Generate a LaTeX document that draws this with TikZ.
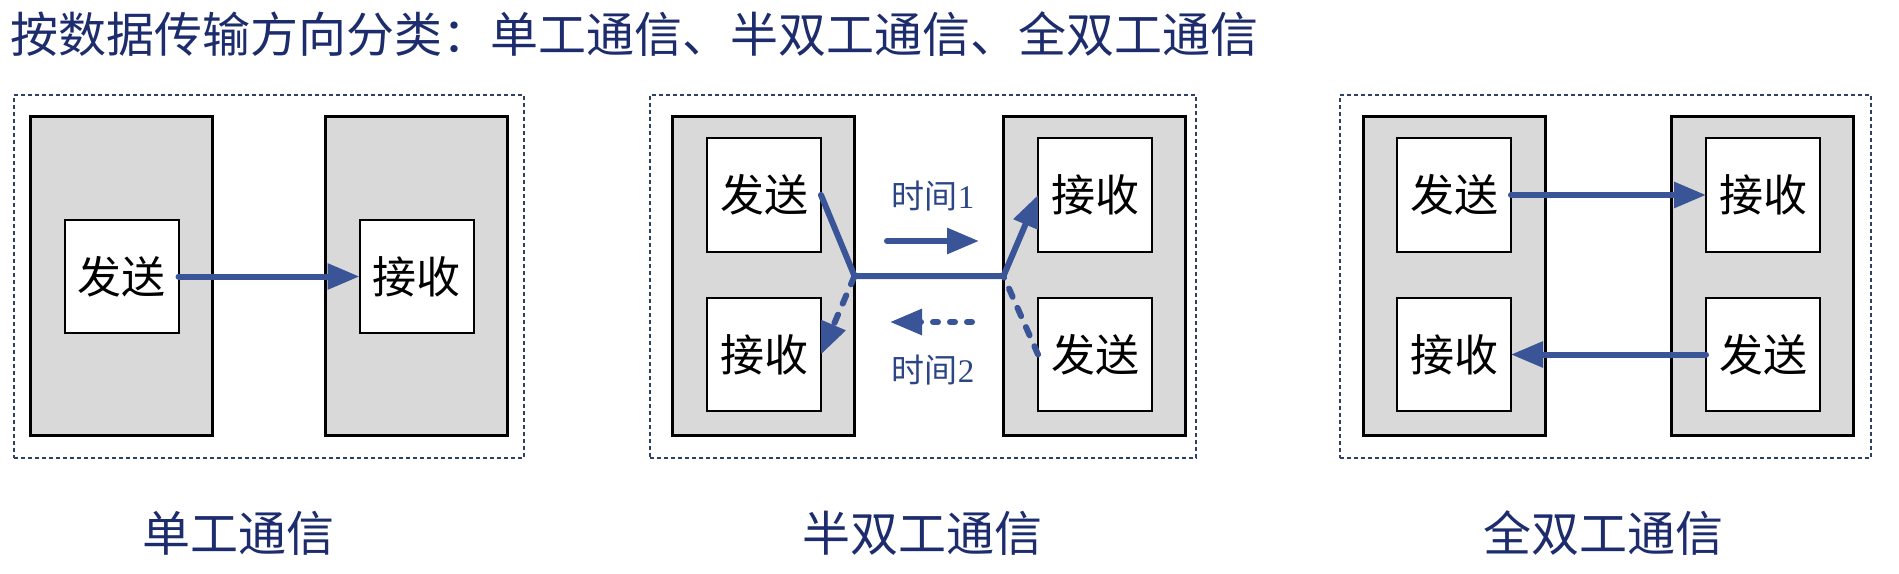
\documentclass[tikz,border=0pt]{standalone}
\usepackage{fontspec}
\usetikzlibrary{arrows.meta}
\newfontfamily\cjk{Noto Sans CJK SC}
\newfontfamily\serifnum{Liberation Serif}
\definecolor{graybg}{HTML}{D9D9D9}
\definecolor{arrowblue}{HTML}{3A5597}
\definecolor{dotcol}{HTML}{2E4066}
\definecolor{titlecol}{HTML}{1C2C6C}
\definecolor{timecol}{HTML}{2B4585}
\newcommand\ttlfont{\cjk\fontsize{48bp}{56bp}\selectfont}
\newcommand\bxfont{\cjk\fontsize{44bp}{50bp}\selectfont}
\newcommand\tmfont{\cjk\fontsize{33bp}{38bp}\selectfont}
\begin{document}
\begin{tikzpicture}[x=1bp,y=-1bp,
  graybox/.style={draw=black, line width=3bp, fill=graybg, minimum width=182bp, minimum height=318bp, inner sep=0pt, outer sep=0pt},
  whitebox/.style={draw=black, line width=2bp, fill=white, minimum width=114bp, minimum height=113bp, inner sep=0pt, outer sep=0pt, font=\bxfont, text=black},
  panelbox/.style={draw=dotcol, line width=2bp, dash pattern=on 4bp off 3bp, minimum width=510bp, minimum height=363bp, inner sep=0pt},
  wire/.style={draw=arrowblue, line width=6bp, line cap=round},
  tip/.style={-{Triangle[length=32bp,width=25bp]}},
  dwire/.style={wire, dash pattern=on 9bp off 12bp},
  ddot/.style={wire, dash pattern=on 5bp off 12bp},
  lbl/.style={font=\ttlfont, text=titlecol, inner sep=0pt},
  tlbl/.style={font=\tmfont, text=timecol, inner sep=0pt}
]
\useasboundingbox (0,0) rectangle (1899,574);

% title
\node[lbl, anchor=west] (title) at (10,34) {按数据传输方向分类：单工通信、半双工通信、全双工通信};

% panel frames
\node[panelbox] (pan1) at (269,276.5) {};
\node[panelbox, minimum width=546bp] (pan2) at (923,276.5) {};
\node[panelbox, minimum width=531bp] (pan3) at (1605.5,276.5) {};

% ---------- panel 1: simplex
\node[graybox] (g1L) at (121.5,276) {};
\node[graybox] (g1R) at (416.5,276) {};
\node[whitebox] (p1s) at (121.5,276.5) {发送};
\node[whitebox] (p1r) at (416.5,276.5) {接收};
\draw[wire, tip] (p1s.east) -- (p1r.west);

% ---------- panel 2: half duplex
\node[graybox] (g2L) at (763.5,276) {};
\node[graybox] (g2R) at (1094.5,276) {};
\node[whitebox] (p2sT) at (764,195) {发送};
\node[whitebox] (p2rB) at (764,354.5) {接收};
\node[whitebox] (p2rT) at (1095,195) {接收};
\node[whitebox] (p2sB) at (1095,354.5) {发送};
\coordinate (jL) at (g2L.east);
\coordinate (jR) at (g2R.west);
\draw[wire] (p2sT.east) -- (jL) -- (jR);
\draw[wire, tip] (jR) -- (p2rT.west);
\draw[dwire, tip] (jL) -- (p2rB.east);
\draw[dwire] (p2sB.west) -- (jR);
\coordinate (t1a) at (887,241);
\coordinate (t1b) at (979,241);
\coordinate (t2a) at (972,322);
\coordinate (t2b) at (890,322);
\draw[wire, tip] (t1a) -- (t1b);
\draw[ddot, tip] (t2a) -- (t2b);
\node[tlbl] (time1) at (933,196) {时间{\serifnum 1}};
\node[tlbl] (time2) at (933,370) {时间{\serifnum 2}};

% ---------- panel 3: full duplex
\node[graybox] (g3L) at (1454.5,276) {};
\node[graybox] (g3R) at (1762,276) {};
\node[whitebox] (p3sT) at (1454,195) {发送};
\node[whitebox] (p3rB) at (1454,354.5) {接收};
\node[whitebox] (p3rT) at (1763,195) {接收};
\node[whitebox] (p3sB) at (1763,354.5) {发送};
\draw[wire, tip] (p3sT.east) -- (p3rT.west);
\draw[wire, tip] (p3sB.west) -- (p3rB.east);

% bottom captions
\node[lbl] (cap1) at (238,533) {单工通信};
\node[lbl] (cap2) at (922,533) {半双工通信};
\node[lbl] (cap3) at (1603,533) {全双工通信};
\end{tikzpicture}
\end{document}
